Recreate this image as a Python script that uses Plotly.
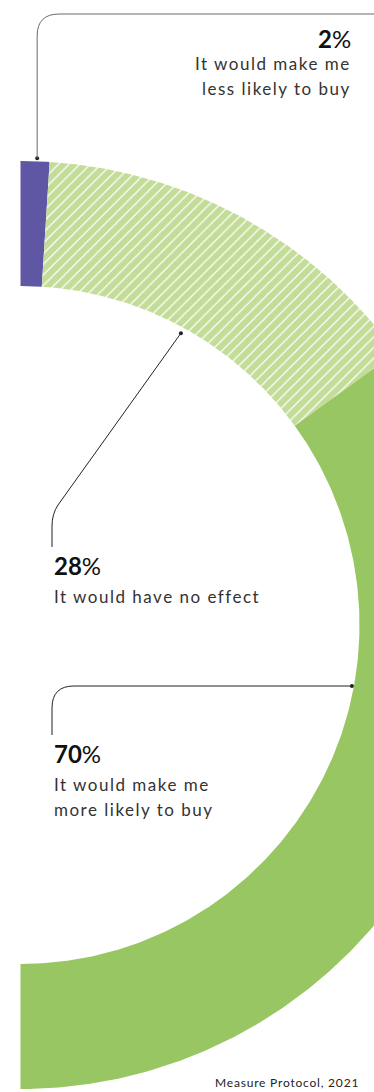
import numpy as np
import plotly.graph_objects as go

# ---- data ----
categories = ["It would make me less likely to buy",
              "It would have no effect",
              "It would make me more likely to buy"]
values = [2, 28, 70]
pct_numbers = ["2", "28", "70"]
label_lines = [["It would make me", "less likely to buy"],
               ["It would have no effect"],
               ["It would make me", "more likely to buy"]]
source = "Measure Protocol, 2021"

# ---- style / layout constants ----
colors = ["#5F56A4", "#C3DC98", "#97C662"]
W, H = 374, 1092
CX, CY = 20.5, 625
R_OUT, R_IN = 464, 339
FONT = "Lato"
TXT = "#333333"


def pt(r, deg):
    a = np.radians(deg)
    return CX + r * np.sin(a), CY - r * np.cos(a)


fig = go.Figure()
cum = np.concatenate([[0], np.cumsum(values)])
angles = cum / cum[-1] * 180.0

for i in range(len(values)):
    t = np.linspace(angles[i], angles[i + 1], 240)
    xo, yo = pt(R_OUT, t)
    xi, yi = pt(R_IN, t[::-1])
    xs = np.concatenate([xo, xi, xo[:1]])
    ys = np.concatenate([yo, yi, yo[:1]])
    kw = dict(x=xs, y=ys, fill="toself", mode="lines",
              line=dict(width=0, color=colors[i]), fillcolor=colors[i],
              hoverinfo="skip", showlegend=False, name=categories[i])
    if i == 1:
        kw["fillpattern"] = dict(shape="/", bgcolor=colors[1], fgcolor="white",
                                 size=7.5, solidity=0.16, fillmode="replace")
    fig.add_trace(go.Scatter(**kw))

# ---- connectors ----
mid = (angles[:-1] + angles[1:]) / 2
# 1) small slice: from outer edge up, round corner, right to edge
ax1, ay1 = pt(R_OUT + 3, mid[0])
ax1 = ax1 + 2
top_y, rc = 14, 22
path1 = (f"M {ax1},{ay1} L {ax1},{top_y + rc} Q {ax1},{top_y} {ax1 + rc},{top_y} "
         f"L {W + 5},{top_y}")
# 2) middle slice: from inner edge diagonally down-left
ax2, ay2 = pt(R_IN - 6, mid[1])
lx = 52
path2 = (f"M {ax2},{ay2} L {lx + 6},{505} Q {lx},{514} {lx},{526} L {lx},{547}")
# 3) big slice: horizontal line hitting inner edge
hy = 686
ax3 = CX + np.sqrt((R_IN - 2) ** 2 - (hy - CY) ** 2)
path3 = (f"M {ax3},{hy} L {lx + 22},{hy} Q {lx},{hy} {lx},{hy + 22} L {lx},{735}")

shapes = [
    dict(type="path", path=path1, line=dict(color="#6b6b6b", width=1), xref="x", yref="y"),
    dict(type="path", path=path2, line=dict(color="#222222", width=1), xref="x", yref="y"),
    dict(type="path", path=path3, line=dict(color="#222222", width=1), xref="x", yref="y"),
]
fig.add_trace(go.Scatter(x=[ax1, ax2, ax3], y=[ay1, ay2, hy], mode="markers",
                         marker=dict(size=4, color="#222222"),
                         hoverinfo="skip", showlegend=False))

# ---- text ----
ann = []


def num(txt):
    return f"<b>{txt}</b>%"


def sp(txt, ls="1.5px"):
    return f"<span style='letter-spacing:{ls}'>{txt}</span>"


NUMSZ, LBLSZ = 24, 17
ann.append(dict(x=353, y=38, text=num(pct_numbers[0]), xanchor="right", yanchor="middle",
                font=dict(size=NUMSZ, color="#111111", family=FONT)))
ann.append(dict(x=353, y=63, text=sp(label_lines[0][0]), xanchor="right", yanchor="middle",
                font=dict(size=LBLSZ, color=TXT, family=FONT)))
ann.append(dict(x=353, y=88, text=sp(label_lines[0][1]), xanchor="right", yanchor="middle",
                font=dict(size=LBLSZ, color=TXT, family=FONT)))

ann.append(dict(x=52, y=565, text=num(pct_numbers[1]), xanchor="left", yanchor="middle",
                font=dict(size=NUMSZ, color="#111111", family=FONT)))
ann.append(dict(x=52, y=596, text=sp(label_lines[1][0]), xanchor="left", yanchor="middle",
                font=dict(size=LBLSZ, color=TXT, family=FONT)))

ann.append(dict(x=52, y=753, text=num(pct_numbers[2]), xanchor="left", yanchor="middle",
                font=dict(size=NUMSZ, color="#111111", family=FONT)))
ann.append(dict(x=52, y=784, text=sp(label_lines[2][0]), xanchor="left", yanchor="middle",
                font=dict(size=LBLSZ, color=TXT, family=FONT)))
ann.append(dict(x=52, y=809, text=sp(label_lines[2][1]), xanchor="left", yanchor="middle",
                font=dict(size=LBLSZ, color=TXT, family=FONT)))

ann.append(dict(x=361, y=1082, text=sp(source, "0.8px"), xanchor="right", yanchor="middle",
                font=dict(size=12, color="#222222", family=FONT)))

for a in ann:
    a.update(xref="x", yref="y", showarrow=False)

fig.update_layout(
    width=W, height=H,
    margin=dict(l=0, r=0, t=0, b=0, pad=0),
    paper_bgcolor="white", plot_bgcolor="white",
    xaxis=dict(range=[0, W], visible=False, fixedrange=True),
    yaxis=dict(range=[H, 0], visible=False, fixedrange=True),
    shapes=shapes, annotations=ann,
    hovermode=False,
)

fig.write_html("out.html", config=dict(displayModeBar=False))
